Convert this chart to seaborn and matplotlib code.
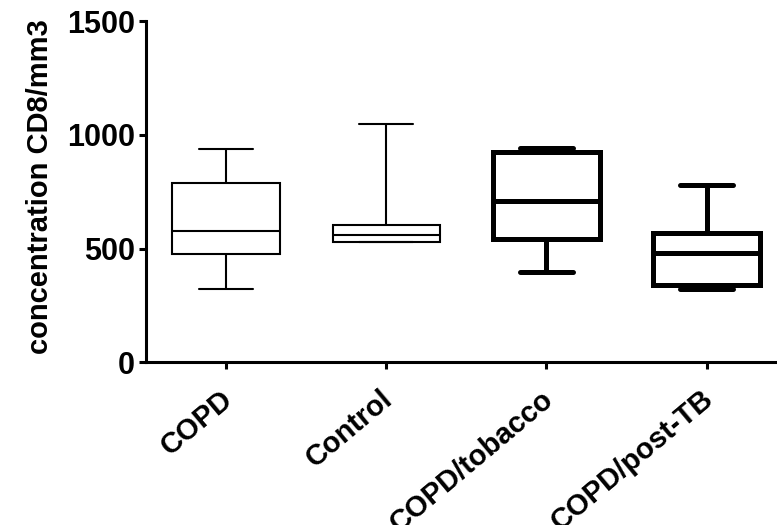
'''
Box plot of CD8 concentration per group (min-max whiskers)
'''

import pandas as pd
import numpy as np
import matplotlib
matplotlib.use('Agg')
import matplotlib.pyplot as plt
import matplotlib.transforms as mtransforms
import seaborn as sns

# Five-number summaries: min, Q1, median, Q3, max
groups = ['COPD', 'Control', 'COPD/tobacco', 'COPD/post-TB']
copd = [321, 475, 577, 790, 937]
control = [529, 529, 560, 602, 1048]
copd_tobacco = [397, 540, 708, 925, 940]
copd_post_tb = [324, 339, 481, 569, 778]
thick_groups = ['COPD/tobacco', 'COPD/post-TB']

# Build long table
values = [copd, control, copd_tobacco, copd_post_tb]
df = pd.DataFrame({
    'group': np.repeat(groups, [len(v) for v in values]),
    'value': np.concatenate(values)
})

sns.set_style('ticks')
plt.rcParams['font.family'] = ['Liberation Sans', 'DejaVu Sans']
plt.rcParams['font.weight'] = 'bold'
plt.rcParams['text.color'] = 'black'
plt.rcParams['axes.labelcolor'] = 'black'
plt.rcParams['xtick.color'] = 'black'
plt.rcParams['ytick.color'] = 'black'

fig = plt.figure(figsize=(7.77, 5.25), dpi=100)
ax = fig.add_axes([0.188, 0.31, 0.812, 0.65])

# Thin boxes
sns.boxplot(data=df[~df['group'].isin(thick_groups)], x='group', y='value',
            order=groups, whis=(0, 100), width=0.67, color='white',
            linecolor='black', linewidth=1.5, showfliers=False, ax=ax)
# Thick boxes
sns.boxplot(data=df[df['group'].isin(thick_groups)], x='group', y='value',
            order=groups, whis=(0, 100), width=0.67, color='white',
            linecolor='black', linewidth=3.6, showfliers=False, ax=ax)

ax.set_xlim(-0.5, 3.44)
ax.set_ylim(0, 1500)
ax.set_yticks([0, 500, 1000, 1500])
ax.set_xlabel('')
ax.set_ylabel('concentration CD8/mm3', fontsize=21, fontweight='bold',
              color='black')
ax.yaxis.set_label_coords(-0.146, 0.516)

for side in ['top', 'right']:
    ax.spines[side].set_visible(False)
for side in ['left', 'bottom']:
    ax.spines[side].set_linewidth(2.2)
    ax.spines[side].set_color('black')

ax.tick_params(axis='both', width=2.2, length=5, color='black', labelcolor='black')
ax.tick_params(axis='y', labelsize=22, pad=3)
ax.tick_params(axis='x', labelsize=21, pad=4)
plt.setp(ax.get_xticklabels(), rotation=40, ha='right', rotation_mode='anchor',
         fontweight='bold')
plt.setp(ax.get_yticklabels(), fontweight='bold')

# Nudge rotated labels down-left to sit like the original
offset = mtransforms.ScaledTranslation(-6 / 100, -10 / 100, fig.dpi_scale_trans)
for label in ax.get_xticklabels():
    label.set_transform(label.get_transform() + offset)

plt.savefig('out.png', dpi=100)
